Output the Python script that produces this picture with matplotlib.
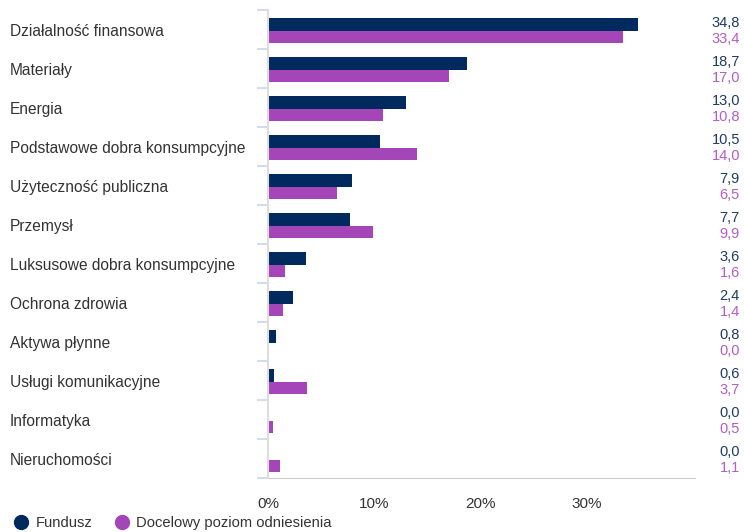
import matplotlib
matplotlib.use('Agg')
import matplotlib.pyplot as plt
import matplotlib.transforms as mtransforms
from matplotlib.lines import Line2D

plt.rcParams['font.family'] = ['Liberation Sans', 'DejaVu Sans']

categories = ['Działalność finansowa', 'Materiały', 'Energia',
              'Podstawowe dobra konsumpcyjne', 'Użyteczność publiczna',
              'Przemysł', 'Luksusowe dobra konsumpcyjne', 'Ochrona zdrowia',
              'Aktywa płynne', 'Usługi komunikacyjne', 'Informatyka',
              'Nieruchomości']
fundusz = [34.8, 18.7, 13.0, 10.5, 7.9, 7.7, 3.6, 2.4, 0.8, 0.6, 0.0, 0.0]
benchmark = [33.4, 17.0, 10.8, 14.0, 6.5, 9.9, 1.6, 1.4, 0.0, 3.7, 0.5, 1.1]
xticks = [0, 10, 20, 30]
series_names = ['Fundusz', 'Docelowy poziom odniesienia']

navy = '#002a5e'
purple = '#a445b8'
navy_txt = '#1e3a66'
purple_txt = '#b45cc8'

fig = plt.figure(figsize=(7.44, 5.32), dpi=100)
ax = fig.add_axes([268 / 744, 54 / 532, (695 - 268) / 744, 468 / 532])

y = list(range(len(categories)))
h = 0.32
ax.barh([i - 0.13 for i in y], fundusz, height=h, color=navy)
ax.barh([i + 0.19 for i in y], benchmark, height=h, color=purple)

ax.set_xlim(0, 40.2)
ax.set_ylim(len(categories) - 0.5, -0.5)

ax.set_xticks(xticks)
ax.set_xticklabels([f'{t}%' for t in xticks], fontsize=11, color='#333333')
ax.tick_params(axis='x', length=0, pad=14)

# category separators drawn as short ticks on the left
ax.set_yticks([i - 0.5 for i in range(len(categories) + 1)])
ax.set_yticklabels([])
ax.tick_params(axis='y', length=8, color='#c9d6ec', width=1.2)

for s in ['top', 'right']:
    ax.spines[s].set_visible(False)
ax.spines['bottom'].set_color('#cccccc')
ax.spines['left'].set_color('#dddddd')
ax.spines['left'].set_linewidth(1.5)

tr = mtransforms.blended_transform_factory(fig.transFigure, ax.transData)
for i, cat in enumerate(categories):
    ax.text(10 / 744, i + 0.04, cat, transform=tr, ha='left', va='center',
            fontsize=11.2, color='#333333')
    ax.text(740 / 744, i - 0.17, f'{fundusz[i]:.1f}'.replace('.', ','),
            transform=tr, ha='right', va='center', fontsize=10.5, color=navy_txt)
    ax.text(740 / 744, i + 0.25, f'{benchmark[i]:.1f}'.replace('.', ','),
            transform=tr, ha='right', va='center', fontsize=10.5, color=purple_txt)

handles = [Line2D([], [], marker='o', linestyle='', markersize=10, color=navy),
           Line2D([], [], marker='o', linestyle='', markersize=10, color=purple)]
leg = fig.legend(handles, series_names, loc='lower left',
                 bbox_to_anchor=(0.0, -0.022), ncol=2, frameon=False,
                 handlelength=1.0, handletextpad=0.5, columnspacing=1.5,
                 fontsize=10.6)
for t in leg.get_texts():
    t.set_color('#333333')

fig.savefig('out.png', dpi=100)
